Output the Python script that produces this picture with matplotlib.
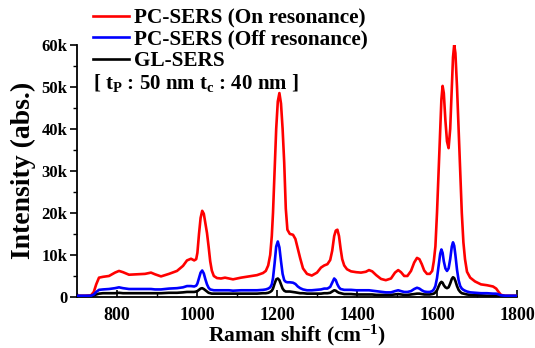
import matplotlib
matplotlib.use("Agg")
import matplotlib.pyplot as plt
from matplotlib.ticker import MultipleLocator, FuncFormatter

plt.rcParams['font.family'] = ['Liberation Serif', 'DejaVu Serif']
plt.rcParams['font.weight'] = 'bold'
plt.rcParams['mathtext.fontset'] = 'custom'
plt.rcParams['mathtext.rm'] = 'Liberation Serif:bold'
plt.rcParams['mathtext.bf'] = 'Liberation Serif:bold'
plt.rcParams['mathtext.it'] = 'Liberation Serif:bold'

wavenumber = [700, 720, 735, 742, 748, 755, 765, 780, 795, 805,
              815, 830, 850, 870, 885, 895, 910, 930, 950, 965,
              975, 985, 993, 998, 1001, 1005, 1009, 1013, 1017, 1021,
              1025, 1029, 1033, 1037, 1042, 1050, 1060, 1070, 1080, 1090,
              1110, 1130, 1150, 1165, 1172, 1178, 1183, 1187, 1190, 1194,
              1198, 1202, 1206, 1210, 1214, 1218, 1222, 1226, 1232, 1240,
              1246, 1252, 1258, 1265, 1275, 1287, 1300, 1310, 1318, 1326,
              1333, 1338, 1343, 1347, 1351, 1355, 1359, 1363, 1368, 1375,
              1385, 1398, 1410, 1422, 1430, 1438, 1448, 1460, 1472, 1485,
              1495, 1503, 1510, 1518, 1526, 1535, 1543, 1550, 1556, 1562,
              1568, 1575, 1582, 1588, 1592, 1596, 1600, 1604, 1608, 1611,
              1614, 1617, 1621, 1625, 1629, 1633, 1637, 1640, 1643, 1646,
              1650, 1654, 1658, 1662, 1666, 1670, 1675, 1683, 1695, 1710,
              1725, 1740, 1748, 1754, 1760, 1770, 1800]

# intensities in thousands (k)
pc_on = [0.3, 0.3, 0.4, 1.2, 3.0, 4.6, 4.8, 5.0, 5.8, 6.2,
         5.9, 5.3, 5.4, 5.5, 5.8, 5.4, 4.9, 5.5, 6.2, 7.4,
         8.7, 9.1, 8.7, 9.0, 10.5, 15.0, 18.8, 20.5, 19.8, 17.5,
         15.2, 12.0, 8.5, 6.3, 5.0, 4.5, 4.4, 4.6, 4.4, 4.2,
         4.6, 4.9, 5.2, 5.7, 6.2, 7.5, 10.0, 14.5, 20.0, 30.0,
         40.0, 46.5, 48.5, 46.0, 40.0, 32.0, 21.0, 16.0, 15.0, 14.8,
         13.8, 11.5, 9.2, 6.8, 5.5, 5.1, 5.8, 7.0, 7.5, 7.8,
         8.8, 11.0, 14.5, 15.8, 16.0, 14.5, 11.5, 9.0, 7.5, 6.6,
         6.1, 5.9, 5.8, 6.0, 6.4, 6.1, 5.2, 4.3, 4.0, 4.4,
         5.8, 6.4, 5.9, 5.0, 5.0, 6.2, 8.2, 9.3, 9.0, 7.8,
         6.3, 5.5, 5.5, 6.2, 8.5, 12.0, 20.0, 30.0, 40.0, 47.0,
         50.2, 48.5, 42.0, 37.0, 35.4, 40.0, 50.0, 57.0, 60.0, 58.0,
         50.0, 40.0, 30.0, 20.0, 13.0, 9.0, 6.0, 4.6, 3.7, 3.0,
         2.8, 2.5, 2.0, 1.2, 0.5, 0.3, 0.3]

pc_off = [0.3, 0.3, 0.3, 0.6, 1.2, 1.7, 1.8, 1.9, 2.1, 2.3,
          2.1, 1.9, 1.9, 1.9, 1.9, 1.8, 1.8, 2.0, 2.1, 2.3,
          2.6, 2.6, 2.5, 2.7, 3.2, 4.5, 5.8, 6.3, 5.6, 4.2,
          3.0, 2.2, 1.8, 1.7, 1.6, 1.6, 1.6, 1.6, 1.6, 1.5,
          1.6, 1.6, 1.6, 1.7, 1.8, 2.0, 2.3, 3.0, 4.5, 8.0,
          12.0, 13.2, 11.8, 8.5, 5.5, 4.0, 3.6, 3.5, 3.5, 3.4,
          3.1, 2.5, 2.1, 1.8, 1.6, 1.6, 1.7, 1.8, 2.0, 2.0,
          2.4, 3.4, 4.4, 4.0, 3.0, 2.3, 1.9, 1.8, 1.7, 1.7,
          1.7, 1.6, 1.6, 1.6, 1.6, 1.5, 1.4, 1.2, 1.1, 1.1,
          1.4, 1.6, 1.4, 1.2, 1.2, 1.4, 1.9, 2.2, 2.0, 1.6,
          1.3, 1.2, 1.2, 1.4, 1.8, 2.6, 4.5, 7.5, 10.3, 11.3,
          10.5, 8.5, 6.8, 6.2, 6.8, 9.0, 12.0, 13.0, 12.2, 10.0,
          6.5, 4.0, 2.6, 2.0, 1.7, 1.5, 1.3, 1.1, 1.0, 0.9,
          0.9, 0.8, 0.8, 0.6, 0.4, 0.3, 0.3]

gl = [0.2, 0.2, 0.2, 0.4, 0.6, 0.8, 0.9, 0.9, 0.9, 1.0,
      0.9, 0.9, 0.9, 0.9, 0.9, 0.9, 0.9, 1.0, 1.0, 1.1,
      1.2, 1.2, 1.2, 1.3, 1.4, 1.7, 2.0, 2.1, 1.9, 1.6,
      1.3, 1.0, 0.9, 0.8, 0.8, 0.8, 0.8, 0.8, 0.8, 0.8,
      0.8, 0.8, 0.8, 0.9, 0.9, 1.0, 1.2, 1.5, 2.0, 3.2,
      4.2, 4.4, 4.0, 3.0, 2.0, 1.5, 1.3, 1.3, 1.3, 1.2,
      1.1, 1.0, 0.9, 0.9, 0.8, 0.8, 0.8, 0.8, 0.9, 0.9,
      1.0, 1.3, 1.6, 1.5, 1.2, 1.0, 0.9, 0.8, 0.7, 0.7,
      0.7, 0.6, 0.6, 0.6, 0.6, 0.6, 0.5, 0.5, 0.5, 0.5,
      0.6, 0.7, 0.6, 0.5, 0.5, 0.6, 0.7, 0.8, 0.8, 0.7,
      0.6, 0.6, 0.6, 0.7, 0.8, 1.1, 1.6, 2.5, 3.3, 3.6,
      3.4, 2.8, 2.3, 2.1, 2.3, 3.2, 4.3, 4.7, 4.5, 3.8,
      2.6, 1.7, 1.2, 0.9, 0.8, 0.7, 0.6, 0.5, 0.4, 0.4,
      0.3, 0.3, 0.3, 0.3, 0.2, 0.2, 0.2]

labels = ["PC-SERS (On resonance)", "PC-SERS (Off resonance)", "GL-SERS"]
note = r"[ t$_{\mathrm{P}}$ : 50 nm t$_{\mathrm{c}}$ : 40 nm ]"
x_ticks = [800, 1000, 1200, 1400, 1600, 1800]
y_ticks = [0, 10000, 20000, 30000, 40000, 50000, 60000]

fig = plt.figure(figsize=(5.35, 3.48), dpi=100)
ax = fig.add_axes([77/535, 51/348, 440/535, 252.3/348])

k = 1000.0
l1, = ax.plot(wavenumber, [v * k for v in pc_on], color='#ff0000', lw=1.9, label=labels[0], zorder=2)
l3, = ax.plot(wavenumber, [v * k for v in gl], color='black', lw=1.9, label=labels[2], zorder=3)
l2, = ax.plot(wavenumber, [v * k for v in pc_off], color='#0000ff', lw=1.9, label=labels[1], zorder=4)

ax.set_xlim(700, 1800)
ax.set_ylim(0, 60000)
ax.set_xticks(x_ticks)
ax.set_yticks(y_ticks)
ax.xaxis.set_minor_locator(MultipleLocator(100))
ax.yaxis.set_minor_locator(MultipleLocator(5000))
ax.yaxis.set_major_formatter(FuncFormatter(lambda v, p: "0" if v == 0 else "%dk" % (v / 1000)))

for s in ['top', 'right']:
    ax.spines[s].set_visible(False)
for s in ['left', 'bottom']:
    ax.spines[s].set_linewidth(1.3)

ax.tick_params(axis='x', which='major', direction='in', length=5, width=1.2, labelsize=13, pad=7)
ax.tick_params(axis='x', which='minor', direction='in', length=3, width=1.0)
ax.tick_params(axis='y', which='major', direction='out', length=5, width=1.2, labelsize=12, pad=2)
ax.tick_params(axis='y', which='minor', direction='out', length=3, width=1.0)
for lab in ax.get_xticklabels() + ax.get_yticklabels():
    lab.set_fontweight('bold')

ax.set_xlabel(r"Raman shift (cm$^{\mathbf{-1}}$)", fontsize=15.5, fontweight='bold', labelpad=-1)
ax.set_ylabel("Intensity (abs.)", fontsize=20, fontweight='bold', labelpad=4)

leg = fig.legend(handles=[l1, l2, l3], labels=labels, loc='upper left',
                 bbox_to_anchor=(93/535, 1 - 8/348), frameon=False,
                 prop={'family': 'Liberation Serif', 'weight': 'bold', 'size': 15.3},
                 handlelength=1.7, handletextpad=0.25, labelspacing=0.08, borderaxespad=0, borderpad=0)
fig.text(93/535, 1 - 83/348, note, fontsize=15, fontweight='bold', va='center', ha='left')

fig.savefig("out.png", dpi=100)
